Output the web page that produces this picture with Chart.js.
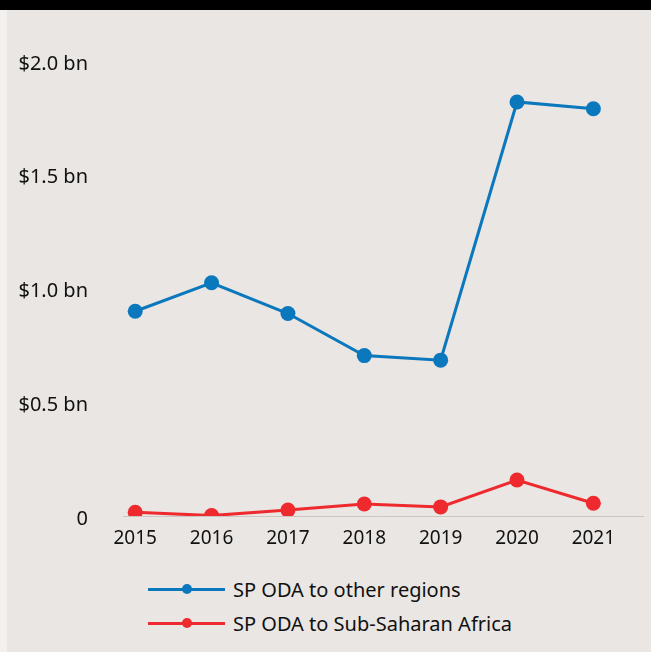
<!DOCTYPE html>
<html>
<head>
<meta charset="utf-8">
<script src="https://cdn.jsdelivr.net/npm/chart.js@4"></script>
<style>
  html, body { margin: 0; padding: 0; }
  body { width: 651px; height: 652px; background: #e9e6e3; position: relative; overflow: hidden; font-family: "Noto Sans", sans-serif; }
  #topbar { position: absolute; left: 0; top: 0; width: 651px; height: 10px; background: #000; }
  #edge { position: absolute; left: 0; top: 10px; width: 7px; height: 642px; background: #f3f1ef; }
  #wrap { position: absolute; left: 0; top: 0; width: 651px; height: 563px; }
  #legend { position: absolute; left: 148px; top: 572px; }
  .item { display: flex; align-items: center; height: 34px; font-size: 20px; color: #111; }
  .swatch { position: relative; width: 77px; height: 12px; margin-right: 8px; }
  .swatch .ln { position: absolute; left: 0; top: 4.5px; width: 77px; height: 3px; }
  .swatch .dot { position: absolute; left: 34px; top: 1px; width: 10px; height: 10px; border-radius: 50%; }
</style>
</head>
<body>
<div id="topbar"></div>
<div id="edge"></div>
<div id="wrap"><canvas id="lineChart"></canvas></div>
<div id="legend"></div>
<script>
const years = [2015, 2016, 2017, 2018, 2019, 2020, 2021];
const otherRegions = [0.90, 1.025, 0.89, 0.705, 0.685, 1.82, 1.79];
const subSaharan = [0.016, 0.002, 0.026, 0.053, 0.040, 0.158, 0.056];
const yTicks = [0, 0.5, 1.0, 1.5, 2.0];

const blue = '#0b77bd';
const red = '#ee2a2f';

let ctx = document.getElementById('lineChart').getContext('2d');

function series(label, values, color) {
    return {
        label: label,
        data: years.map((y, i) => ({ x: y, y: values[i] })),
        borderColor: color,
        backgroundColor: color,
        borderWidth: 3,
        pointRadius: 7.5,
        pointHoverRadius: 7.5,
        pointBorderWidth: 0,
        tension: 0
    };
}

let chart = new Chart(ctx, {
    type: 'line',
    data: {
        datasets: [
            series('SP ODA to other regions', otherRegions, blue),
            series('SP ODA to Sub-Saharan Africa', subSaharan, red)
        ]
    },
    options: {
        responsive: true,
        maintainAspectRatio: false,
        animation: false,
        layout: { padding: { top: 61, right: 8, left: 0, bottom: 0 } },
        plugins: {
            legend: { display: false },
            tooltip: { enabled: false }
        },
        scales: {
            x: {
                type: 'linear',
                min: 2014.84,
                max: 2021.65,
                grid: { display: false, drawTicks: false },
                border: { display: true, color: '#cdc6bf', width: 1 },
                afterBuildTicks: s => { s.ticks = years.map(v => ({ value: v })); },
                afterFit: s => { s.height = 44; },
                ticks: {
                    padding: 11,
                    color: '#111',
                    font: { family: 'Noto Sans', size: 19 },
                    callback: v => String(v)
                }
            },
            y: {
                min: 0,
                max: 2,
                grid: { display: false, drawTicks: false },
                border: { display: false },
                afterBuildTicks: s => { s.ticks = yTicks.map(v => ({ value: v })); },
                afterFit: s => { s.width = 123; },
                ticks: {
                    padding: 35,
                    labelOffset: 3,
                    color: '#111',
                    font: { family: 'Noto Sans', size: 20 },
                    callback: v => v === 0 ? '0' : '$' + v.toFixed(1) + ' bn'
                }
            }
        }
    }
});

// legend rows: line with a dot in the middle, then the label
let legend = document.getElementById('legend');
chart.data.datasets.forEach(ds => {
    let row = document.createElement('div');
    row.className = 'item';
    row.innerHTML = '<div class="swatch"><div class="ln" style="background:' + ds.borderColor +
        '"></div><div class="dot" style="background:' + ds.borderColor + '"></div></div><span>' + ds.label + '</span>';
    legend.appendChild(row);
});
</script>
</body>
</html>
